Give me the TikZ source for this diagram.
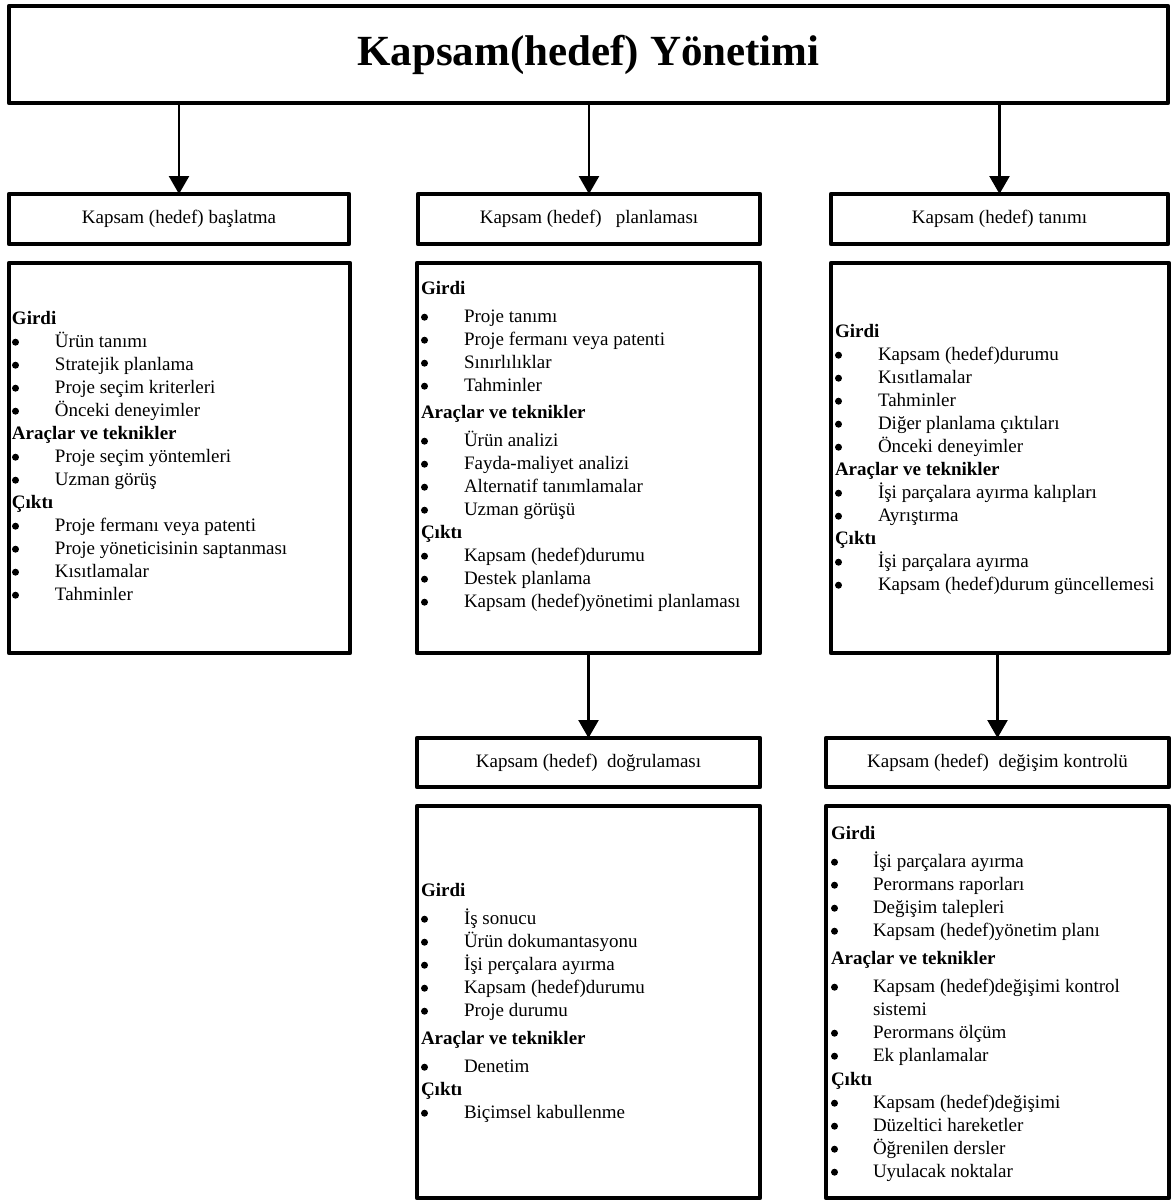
\documentclass[tikz,border=0pt]{standalone}
\usepackage{fontspec}
\setmainfont{Liberation Serif}
\usetikzlibrary{arrows.meta}

% group heading spanning both list columns, and a bulleted row
\newcommand\listhead[1]{\multicolumn{2}{@{}l@{}}{\textbf{#1}}}
\newcommand\listdot{\tikz[baseline=0pt]\fill (0pt,4.8pt) circle (3.5pt);}
\newcommand\bulletrow[1]{\listdot & #1}

\tikzset{
  frame/.style={draw, line width=4.5pt, line join=round, inner sep=0pt, outer sep=0pt,
                anchor=north west, fill=white},
  labeltext/.style={font=\fontsize{19}{23}\selectfont},
  titletext/.style={font=\fontsize{43}{50}\selectfont\bfseries},
  listtext/.style={anchor=base west, inner sep=0pt, outer sep=0pt,
                   font=\fontsize{19}{23}\selectfont},
  flow/.style={line width=2.5pt, -{Triangle[width=20pt,length=18pt]}}
}

\begin{document}
\begin{tikzpicture}[x=1pt,y=-1pt]
\useasboundingbox[fill=white] (0,0) rectangle (1173,1202);

% title
\node[frame, titletext, minimum width=1159pt, minimum height=97pt] (top) at (9,6)
  {Kapsam(hedef) Yönetimi};

% process boxes
\node[frame, labeltext, minimum width=340pt, minimum height=50pt] (a1) at (9,194)
  {Kapsam (hedef) başlatma};
\node[frame, labeltext, minimum width=342pt, minimum height=50pt] (a2) at (418,194)
  {Kapsam (hedef)~~~planlaması};
\node[frame, labeltext, minimum width=337pt, minimum height=50pt] (a3) at (831,194)
  {Kapsam (hedef) tanımı};
\node[frame, labeltext, minimum width=343pt, minimum height=49pt] (d2) at (417,738)
  {Kapsam (hedef)~~doğrulaması};
\node[frame, labeltext, minimum width=343pt, minimum height=49pt] (d3) at (826,738)
  {Kapsam (hedef)~~değişim kontrolü};

% detail boxes
\node[frame, minimum width=341pt, minimum height=390pt] (c1) at (9,263) {};
\node[frame, minimum width=343pt, minimum height=390pt] (c2) at (417,263) {};
\node[frame, minimum width=338pt, minimum height=390pt] (c3) at (831,263) {};
\node[frame, minimum width=343pt, minimum height=392pt] (e2) at (417,806) {};
\node[frame, minimum width=343pt, minimum height=392pt] (e3) at (826,806) {};

% detail lists
\node[listtext] (c1list) at (12,324) {%
\begin{tabular}[t]{@{}p{43pt}@{}l@{}}
\listhead{Girdi}\\
\bulletrow{Ürün tanımı}\\
\bulletrow{Stratejik planlama}\\
\bulletrow{Proje seçim kriterleri}\\
\bulletrow{Önceki deneyimler}\\
\listhead{Araçlar ve teknikler}\\
\bulletrow{Proje seçim yöntemleri}\\
\bulletrow{Uzman görüş}\\
\listhead{Çıktı}\\
\bulletrow{Proje fermanı veya patenti}\\
\bulletrow{Proje yöneticisinin saptanması}\\
\bulletrow{Kısıtlamalar}\\
\bulletrow{Tahminler}
\end{tabular}};

\node[listtext] (c2list) at (421,294) {%
\begin{tabular}[t]{@{}p{43pt}@{}l@{}}
\listhead{Girdi}\\[5pt]
\bulletrow{Proje tanımı}\\
\bulletrow{Proje fermanı veya patenti}\\
\bulletrow{Sınırlılıklar}\\
\bulletrow{Tahminler}\\[4pt]
\listhead{Araçlar ve teknikler}\\[5pt]
\bulletrow{Ürün analizi}\\
\bulletrow{Fayda-maliyet analizi}\\
\bulletrow{Alternatif tanımlamalar}\\
\bulletrow{Uzman görüşü}\\
\listhead{Çıktı}\\
\bulletrow{Kapsam (hedef)durumu}\\
\bulletrow{Destek planlama}\\
\bulletrow{Kapsam (hedef)yönetimi planlaması}
\end{tabular}};

\node[listtext] (c3list) at (835,337) {%
\begin{tabular}[t]{@{}p{43pt}@{}l@{}}
\listhead{Girdi}\\
\bulletrow{Kapsam (hedef)durumu}\\
\bulletrow{Kısıtlamalar}\\
\bulletrow{Tahminler}\\
\bulletrow{Diğer planlama çıktıları}\\
\bulletrow{Önceki deneyimler}\\
\listhead{Araçlar ve teknikler}\\
\bulletrow{İşi parçalara ayırma kalıpları}\\
\bulletrow{Ayrıştırma}\\
\listhead{Çıktı}\\
\bulletrow{İşi parçalara ayırma}\\
\bulletrow{Kapsam (hedef)durum güncellemesi}
\end{tabular}};

\node[listtext] (e2list) at (421,896) {%
\begin{tabular}[t]{@{}p{43pt}@{}l@{}}
\listhead{Girdi}\\[5pt]
\bulletrow{İş sonucu}\\
\bulletrow{Ürün dokumantasyonu}\\
\bulletrow{İşi perçalara ayırma}\\
\bulletrow{Kapsam (hedef)durumu}\\
\bulletrow{Proje durumu}\\[5pt]
\listhead{Araçlar ve teknikler}\\[5pt]
\bulletrow{Denetim}\\
\listhead{Çıktı}\\
\bulletrow{Biçimsel kabullenme}
\end{tabular}};

\node[listtext] (e3list) at (831,839) {%
\begin{tabular}[t]{@{}p{42pt}@{}l@{}}
\listhead{Girdi}\\[5pt]
\bulletrow{İşi parçalara ayırma}\\
\bulletrow{Perormans raporları}\\
\bulletrow{Değişim talepleri}\\
\bulletrow{Kapsam (hedef)yönetim planı}\\[5pt]
\listhead{Araçlar ve teknikler}\\[5pt]
\bulletrow{Kapsam (hedef)değişimi kontrol}\\
 & sistemi\\
\bulletrow{Perormans ölçüm}\\
\bulletrow{Ek planlamalar}\\[1pt]
\listhead{Çıktı}\\
\bulletrow{Kapsam (hedef)değişimi}\\
\bulletrow{Düzeltici hareketler}\\
\bulletrow{Öğrenilen dersler}\\
\bulletrow{Uyulacak noktalar}
\end{tabular}};

% connectors
\draw[flow] (a1.north |- top.south) -- (a1.north);
\draw[flow] (a2.north |- top.south) -- (a2.north);
\draw[flow] (a3.north |- top.south) -- (a3.north);
\draw[flow] (d2.north |- c2.south) -- (d2.north);
\draw[flow] (d3.north |- c3.south) -- (d3.north);
\end{tikzpicture}
\end{document}
